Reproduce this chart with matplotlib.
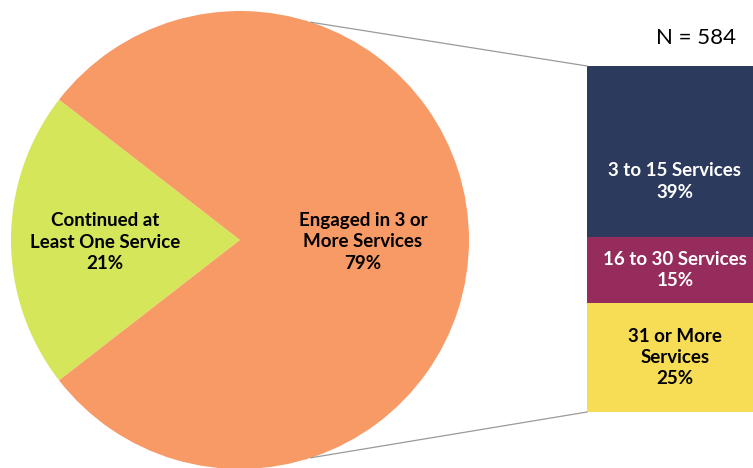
import numpy as np
import matplotlib.pyplot as plt

# pie: share of clients by engagement
pie_labels = ["Continued at\nLeast One Service", "Engaged in 3 or\nMore Services"]
pie_values = [21, 79]
pie_colors = ["#D6E65A", "#F89A66"]

# bar: breakdown of the 79% slice
bar_labels = ["31 or More\nServices", "16 to 30 Services", "3 to 15 Services"]
bar_values = [25, 15, 39]
bar_colors = ["#F7DD55", "#952C5C", "#2C3A5E"]
bar_text_colors = ["black", "white", "white"]
n_total = 584

W, H = 753, 468
fig = plt.figure(figsize=(W / 100, H / 100), dpi=100)
ax = fig.add_axes([0, 0, 1, 1])

font = "Lato"
cx, cy, r = 240, 228, 229
half = pie_values[0] / 100 * 360 / 2
wedges, _ = ax.pie(pie_values, colors=pie_colors, startangle=180 - half,
                   center=(cx, cy), radius=r, frame=True,
                   wedgeprops=dict(linewidth=0))
ax.set_xlim(0, W)
ax.set_ylim(0, H)
ax.set_aspect("equal")
ax.axis("off")

# labels inside the slices
for w, lab, v, dist in zip(wedges, pie_labels, pie_values, [135, 123]):
    mid = np.deg2rad((w.theta1 + w.theta2) / 2)
    ax.text(cx + dist * np.cos(mid), cy + dist * np.sin(mid) - 2,
            f"{lab}\n{v}%", ha="center", va="center", fontsize=13.5,
            fontweight="bold", family=font, color="black", linespacing=1.3)

# stacked bar on the right
bar_x, bar_w = 587, 176
bar_bottom, bar_top = H - 412, H - 66
scale = (bar_top - bar_bottom) / sum(bar_values)
bottom = bar_bottom
for i, (v, c, lab, tc) in enumerate(zip(bar_values, bar_colors, bar_labels, bar_text_colors)):
    hgt = v * scale
    ax.bar(bar_x, hgt, width=bar_w, bottom=bottom, color=c, align="edge", linewidth=0)
    ty = bottom + hgt / 2
    if i == 2:
        ty -= 30
    ax.text(bar_x + 88, ty, f"{lab}\n{v}%", ha="center", va="center",
            fontsize=13.5, fontweight="bold", family=font, color=tc, linespacing=1.3)
    bottom += hgt

# connector lines from the pie to the bar
ang = np.deg2rad(72)
ax.plot([cx + r * np.cos(ang), bar_x], [cy + r * np.sin(ang), bar_top],
        color="#9a9a9a", linewidth=0.9)
ax.plot([cx + r * np.cos(-ang), bar_x], [cy + r * np.sin(-ang), bar_bottom],
        color="#9a9a9a", linewidth=0.9)

ax.text(696, H - 38, f"N = {n_total}", ha="center", va="center",
        fontsize=16, family=font, color="black")

fig.savefig("out.png", dpi=100)
